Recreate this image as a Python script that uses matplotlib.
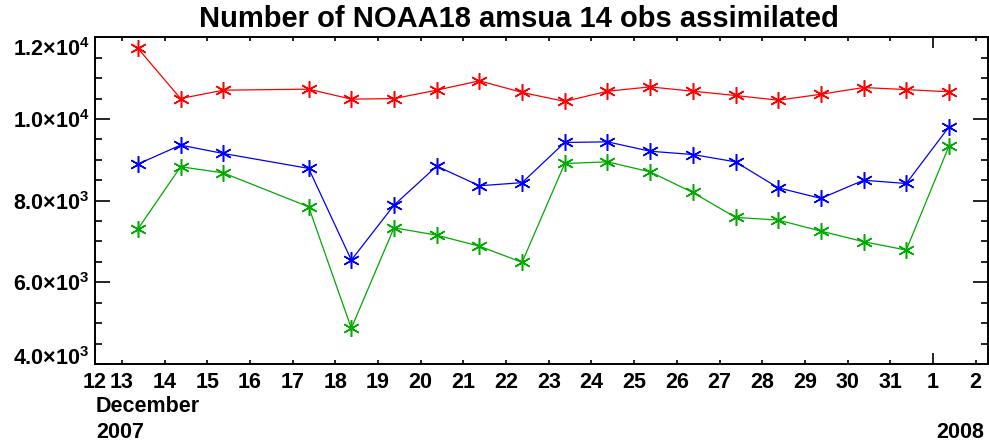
import matplotlib
matplotlib.use('Agg')
from matplotlib import pyplot as plt
from matplotlib import transforms

# day of December 2007 (Jan 1 2008 = 32), obs at ~09Z
days = [13, 14, 15, 17, 18, 19, 20, 21, 22, 23, 24, 25, 26, 27, 28, 29, 30, 31, 32]
red = [11730, 10500, 10705, 10730, 10485, 10500, 10705, 10935, 10650, 10430,
       10680, 10785, 10680, 10575, 10460, 10605, 10770, 10720, 10665]
blue = [8895, 9360, 9155, 8790, 6545, 7890, 8845, 8365, 8440, 9425,
        9440, 9210, 9130, 8950, 8315, 8055, 8500, 8420, 9805]
green = [7305, 8830, 8680, 7850, 4875, 7335, 7155, 6885, 6490, 8910,
         8950, 8705, 8200, 7590, 7525, 7255, 6995, 6790, 9335]
xticks = list(range(13, 34))
xticklabels = [str(d) for d in range(13, 32)] + ['1', '2']
yticks = [4000, 6000, 8000, 10000, 12000]
yticklabels = [r'4.0$\times$10$^3$', r'6.0$\times$10$^3$', r'8.0$\times$10$^3$',
               r'1.0$\times$10$^4$', r'1.2$\times$10$^4$']

plt.rcParams['font.family'] = ['Liberation Sans', 'DejaVu Sans']
plt.rcParams['font.weight'] = 'bold'
plt.rcParams['mathtext.fontset'] = 'custom'
plt.rcParams['mathtext.rm'] = 'Liberation Sans:bold'
plt.rcParams['mathtext.default'] = 'rm'

fig = plt.figure(figsize=(9.89, 4.43), dpi=100)
ax = fig.add_axes([95/989, 79/443, 893/989, 326.7/443])

off = 0.375
star = (6, 2, 0)
ax.plot([d + off for d in days], red, color='#ff0000', lw=0.9, marker=star, ms=12, mew=1.1)
ax.plot([d + off for d in days], blue, color='#0000ff', lw=0.9, marker=star, ms=12, mew=1.1)
ax.plot([d + off for d in days], green, color='#00aa00', lw=0.9, marker=star, ms=12, mew=1.1)

x0, x1 = 12.37, 33.29
ax.set_xlim(x0, x1)
ax.set_ylim(4000, 12000)

ax.set_xticks([x0] + xticks)
ax.set_xticklabels(['12'] + xticklabels, fontsize=15.5, fontweight='bold')
ax.tick_params(axis='x', direction='in', length=3, width=1.2, pad=6, top=True)
ax.xaxis.get_major_ticks()[0].tick1line.set_visible(False)
ax.xaxis.get_major_ticks()[0].tick2line.set_visible(False)
jan1 = ax.xaxis.get_major_ticks()[xticks.index(32) + 1]
jan1.tick1line.set_markersize(8)
jan1.tick2line.set_markersize(8)

ax.set_yticks(yticks)
ax.set_yticklabels(yticklabels, fontsize=15.5, fontweight='bold')
ax.set_yticks(list(range(4500, 12000, 500)), minor=True)
ax.tick_params(axis='y', which='major', direction='in', length=11, width=1.2, right=True, pad=4)
ax.tick_params(axis='y', which='minor', direction='in', length=5, width=1.2, right=True)
ylabs = ax.get_yticklabels()
ylabs[-1].set_transform(ylabs[-1].get_transform() + transforms.ScaledTranslation(0, -10/100, fig.dpi_scale_trans))
ylabs[0].set_transform(ylabs[0].get_transform() + transforms.ScaledTranslation(0, 8/100, fig.dpi_scale_trans))

for s in ax.spines.values():
    s.set_linewidth(1.4)

fig.text(519/989, 1 - 19/443, 'Number of NOAA18 amsua 14 obs assimilated',
         fontsize=21, fontweight='bold', ha='center', va='center')

fig.text(96/989, 1 - 406/443, 'December', fontsize=15.5, fontweight='bold', va='center', ha='left')
fig.text(96/989, 1 - 432/443, '2007', fontsize=15.5, fontweight='bold', va='center', ha='left')
fig.text(984/989, 1 - 432/443, '2008', fontsize=15.5, fontweight='bold', va='center', ha='right')

fig.savefig('out.png', dpi=100)
